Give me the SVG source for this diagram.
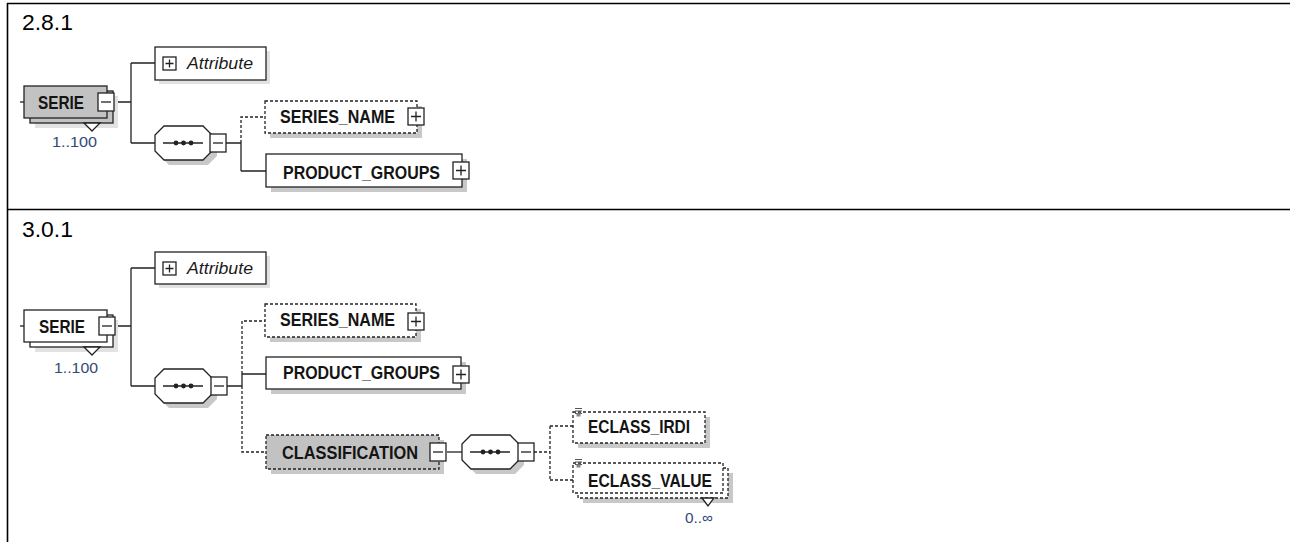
<svg xmlns="http://www.w3.org/2000/svg" width="1290" height="542" viewBox="0 0 1290 542">
<defs>
<style>
.tbl{stroke:#000;stroke-width:1.6;fill:none}
.hdr{font-family:"Liberation Sans",Arial,sans-serif;font-size:22px;fill:#000}
.box{fill:#fff;stroke:#222;stroke-width:1.3}
.gbox{fill:#c2c2c2;stroke:#222;stroke-width:1.3}
.dash{stroke-dasharray:3,2}
.shd{fill:#c8c8c8;stroke:none}
.lshd{fill:#e2e2e2;stroke:none}
.lbl{font-family:"Liberation Sans",Arial,sans-serif;font-weight:bold;font-size:17.5px;fill:#141414}
.it{font-family:"Liberation Sans",Arial,sans-serif;font-style:italic;font-size:16.5px;fill:#1a1a1a}
.card{font-family:"Liberation Sans",Arial,sans-serif;font-size:15.5px;fill:#2f4a75}
.ln{stroke:#222;stroke-width:1.3;fill:none}
.dl{stroke:#222;stroke-width:1.3;fill:none;stroke-dasharray:3,2}
.sq{fill:#fff;stroke:#222;stroke-width:1.3}
.oct{fill:#fff;stroke:#222;stroke-width:1.3}
.dot{fill:#222}
</style>
<g id="plusSq"><rect class="sq" x="0" y="0" width="16" height="17"/><path class="ln" d="M3 8.5H13M8 3.5V13.5"/></g>
<g id="plusSm"><rect class="sq" x="0" y="0" width="13" height="13"/><path class="ln" d="M2.5 6.5H10.5M6.5 2.5V10.5"/></g>
<g id="minusSq"><rect class="sq" x="0" y="0" width="16" height="18"/><path class="ln" d="M3 9H13"/></g>
<g id="seq">
<polygon class="shd" points="14,5 53,5 62,14 62,30 53,39 14,39 5,30 5,14"/>
<polygon class="oct" points="9,0 48,0 57,9 57,25 48,34 9,34 0,25 0,9"/>
<path class="ln" d="M8 17H48"/>
<circle class="dot" cx="21" cy="17" r="2.4"/><circle class="dot" cx="28.5" cy="17" r="2.4"/><circle class="dot" cx="36" cy="17" r="2.4"/>
</g>
<g id="stIcon"><path d="M0 0.5H7M0 3H7M0 5.5H7" stroke="#555" stroke-width="1" fill="none"/><rect x="1.5" y="5.5" width="4" height="3" fill="#888"/></g>
</defs>

<g id="table">
<path class="tbl" d="M7 3.5H1290M7 209.5H1290M7.5 3V542"/>
<text class="hdr" x="22" y="30" textLength="51" lengthAdjust="spacingAndGlyphs">2.8.1</text>
<text class="hdr" x="22" y="237" textLength="51" lengthAdjust="spacingAndGlyphs">3.0.1</text>
</g>

<g id="connectors">
<path class="ln" d="M20 102H24"/>
<path class="ln" d="M114 102H131M131 63V143M131 63H155M131 143H155"/>
<path class="ln" d="M226 143H241M241 143V171M241 171H266"/>
<path class="dl" d="M241 143V117H265"/>
<path class="ln" d="M20 326H24"/>
<path class="ln" d="M115 326H131M131 268V386M131 268H155M131 386H155"/>
<path class="ln" d="M227 386H242M242 374V386M242 374H266"/>
<path class="dl" d="M242 374V321H265M242 386V452H266"/>
<path class="ln" d="M447 452H462"/>
<path class="dl" d="M534 452H550M550 426V480M550 426H573M550 480H573"/>
</g>

<g id="serie1">
<rect class="lshd" x="35" y="96" width="83" height="32"/>
<rect class="gbox" x="30" y="91" width="83" height="32"/>
<rect class="gbox" x="24" y="86" width="83" height="32"/>
<polygon points="84,123 92,131 100,123" fill="#fff" stroke="#222" stroke-width="1.3"/>
<text class="lbl" x="38" y="109" textLength="46" lengthAdjust="spacingAndGlyphs">SERIE</text>
<use href="#minusSq" x="98" y="93"/>
<text class="card" x="52" y="147" textLength="45" lengthAdjust="spacingAndGlyphs">1..100</text>
</g>
<g id="attr1">
<rect class="lshd" x="159" y="51" width="111" height="33"/>
<rect class="box" x="155" y="47" width="111" height="33"/>
<use href="#plusSm" x="163" y="57"/>
<text class="it" x="187" y="69" textLength="66" lengthAdjust="spacingAndGlyphs">Attribute</text>
</g>
<g id="seq1">
<use href="#seq" x="155" y="126"/>
<use href="#minusSq" x="210" y="134"/>
</g>
<g id="seriesName1">
<rect class="shd" x="270" y="106" width="152" height="32"/>
<rect class="box dash" x="265" y="101" width="152" height="32"/>
<text class="lbl" x="280" y="123" textLength="115" lengthAdjust="spacingAndGlyphs">SERIES_NAME</text>
<use href="#plusSq" x="408" y="108"/>
</g>
<g id="productGroups1">
<rect class="shd" x="271" y="159" width="196" height="33"/>
<rect class="box" x="266" y="154" width="196" height="33"/>
<text class="lbl" x="283" y="179" textLength="157" lengthAdjust="spacingAndGlyphs">PRODUCT_GROUPS</text>
<use href="#plusSq" x="453" y="162"/>
</g>

<g id="serie2">
<rect class="lshd" x="35" y="320" width="83" height="32"/>
<rect class="box" x="30" y="315" width="83" height="32"/>
<rect class="box" x="24" y="310" width="83" height="32"/>
<polygon points="84,347 92,355 100,347" fill="#fff" stroke="#222" stroke-width="1.3"/>
<text class="lbl" x="39" y="333" textLength="46" lengthAdjust="spacingAndGlyphs">SERIE</text>
<use href="#minusSq" x="99" y="317"/>
<text class="card" x="54" y="373" textLength="44" lengthAdjust="spacingAndGlyphs">1..100</text>
</g>
<g id="attr2">
<rect class="lshd" x="159" y="256" width="111" height="32"/>
<rect class="box" x="155" y="252" width="111" height="32"/>
<use href="#plusSm" x="163" y="262"/>
<text class="it" x="187" y="274" textLength="66" lengthAdjust="spacingAndGlyphs">Attribute</text>
</g>
<g id="seq2">
<use href="#seq" x="155" y="369"/>
<use href="#minusSq" x="211" y="377"/>
</g>
<g id="seriesName2">
<rect class="shd" x="270" y="309" width="151" height="33"/>
<rect class="box dash" x="265" y="304" width="151" height="33"/>
<text class="lbl" x="280" y="326" textLength="115" lengthAdjust="spacingAndGlyphs">SERIES_NAME</text>
<use href="#plusSq" x="408" y="313"/>
</g>
<g id="productGroups2">
<rect class="shd" x="271" y="362" width="195" height="32"/>
<rect class="box" x="266" y="357" width="195" height="32"/>
<text class="lbl" x="283" y="379" textLength="157" lengthAdjust="spacingAndGlyphs">PRODUCT_GROUPS</text>
<use href="#plusSq" x="453" y="366"/>
</g>
<g id="classification">
<rect class="shd" x="271" y="440" width="173" height="34"/>
<rect class="gbox dash" x="266" y="435" width="173" height="34"/>
<text class="lbl" x="282" y="459" textLength="136" lengthAdjust="spacingAndGlyphs">CLASSIFICATION</text>
<use href="#minusSq" x="430" y="443"/>
</g>
<g id="seq3">
<use href="#seq" x="462" y="435"/>
<use href="#minusSq" x="518" y="443"/>
</g>
<g id="eclassIrdi">
<rect class="shd" x="578" y="417" width="132" height="31"/>
<rect class="box dash" x="573" y="412" width="132" height="31"/>
<use href="#stIcon" x="575" y="408"/>
<text class="lbl" x="588" y="433" textLength="102" lengthAdjust="spacingAndGlyphs">ECLASS_IRDI</text>
</g>
<g id="eclassValue">
<rect class="shd" x="583" y="473" width="150" height="30"/>
<rect class="box dash" x="578" y="468" width="150" height="30"/>
<rect class="box dash" x="573" y="463" width="150" height="30"/>
<polygon points="702,498 708,506 714,498" fill="#fff" stroke="#222" stroke-width="1.3"/>
<use href="#stIcon" x="575" y="459"/>
<text class="lbl" x="588" y="487" textLength="124" lengthAdjust="spacingAndGlyphs">ECLASS_VALUE</text>
<text class="card" x="685" y="523" font-size="13" textLength="28" lengthAdjust="spacingAndGlyphs">0..∞</text>
</g>
</svg>
